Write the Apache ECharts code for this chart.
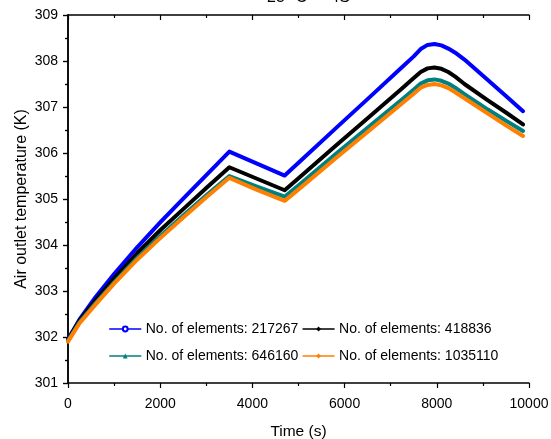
<!DOCTYPE html>
<html>
<head>
<meta charset="utf-8">
<script src="https://cdn.jsdelivr.net/npm/echarts@6/dist/echarts.min.js"></script>
<style>html,body{margin:0;padding:0;background:#fff}#c{width:551px;height:439px}</style>
</head>
<body>
<div id="c"></div>
<script>
var time = [0, 250, 600, 1000, 1500, 2000, 2500, 3000, 3500, 4100, 4700, 5100, 5800, 6550, 7250, 7500, 7650, 7800, 7950, 8100, 8250, 8400, 8600, 9100, 9500, 9870];
var names = ['No. of elements: 217267', 'No. of elements: 418836', 'No. of elements: 646160', 'No. of elements: 1035110'];
var blue   = [301.95, 302.38, 302.87, 303.37, 303.95, 304.49, 305.01, 305.52, 306.03, 305.77, 305.51, 305.88, 306.53, 307.22, 307.87, 308.10, 308.26, 308.35, 308.37, 308.34, 308.27, 308.18, 308.03, 307.59, 307.24, 306.91];
var black  = [301.94, 302.36, 302.80, 303.27, 303.82, 304.32, 304.78, 305.24, 305.69, 305.44, 305.19, 305.54, 306.15, 306.80, 307.41, 307.63, 307.76, 307.84, 307.86, 307.83, 307.76, 307.66, 307.50, 307.15, 306.88, 306.62];
var teal   = [301.92, 302.32, 302.74, 303.19, 303.72, 304.19, 304.64, 305.08, 305.50, 305.27, 305.05, 305.38, 305.97, 306.59, 307.17, 307.38, 307.51, 307.58, 307.60, 307.57, 307.51, 307.42, 307.28, 306.95, 306.70, 306.48];
var orange = [301.90, 302.30, 302.71, 303.16, 303.68, 304.15, 304.60, 305.04, 305.46, 305.20, 304.96, 305.29, 305.88, 306.50, 307.08, 307.29, 307.42, 307.48, 307.50, 307.47, 307.41, 307.32, 307.19, 306.86, 306.60, 306.37];
var titleText = '25 \u00B0C  -  4S';

function pairs(v){ return time.map(function(t,i){ return [t, v[i]]; }); }
var FONT = '"Liberation Sans", Arial, sans-serif';
var colors = ['#0000ff', '#000000', '#008080', '#ff8000'];
var symbols = ['emptyCircle', 'diamond', 'triangle', 'diamond'];
var vals = [blue, black, teal, orange];

var chart = echarts.init(document.getElementById('c'), null, {renderer: 'canvas'});
var axisLine = {show: true, lineStyle: {color: '#000', width: 1.5}};
var baseX = {
  type: 'value', min: 0, max: 10000, interval: 2000,
  axisLine: axisLine, splitLine: {show: false}
};
var baseY = {
  type: 'value', min: 301, max: 309, interval: 1,
  axisLine: axisLine, splitLine: {show: false}
};
var legendText = {fontFamily: FONT, fontSize: 14, color: '#000'};
var option = {
  animation: false,
  backgroundColor: '#fff',
  title: {text: titleText, left: 262, top: -15, textStyle: {fontFamily: FONT, fontSize: 16, fontWeight: 'normal', color: '#000'}},
  grid: {left: 68, right: 22, top: 15, bottom: 56, containLabel: false, outerBoundsMode: 'none'},
  legend: [
    {data: [names[0], names[1]], left: 104, top: 317, itemWidth: 31, itemHeight: 6, itemGap: 4,
     lineStyle: {width: 1.5}, textStyle: legendText},
    {data: [names[2], names[3]], left: 104, top: 344, itemWidth: 31, itemHeight: 6, itemGap: 4,
     lineStyle: {width: 1.5}, textStyle: legendText}
  ],
  xAxis: [
    Object.assign({}, baseX, {
      position: 'bottom', name: 'Time (s)', nameLocation: 'middle', nameGap: 41, nameMoveOverlap: false,
      nameTextStyle: {fontFamily: FONT, fontSize: 15.5, color: '#000'},
      axisTick: {show: true, length: 5, inside: false, lineStyle: {color: '#000', width: 1.2}},
      minorTick: {show: true, splitNumber: 2, length: 3, lineStyle: {color: '#000', width: 1.2}},
      axisLabel: {fontFamily: FONT, fontSize: 14, color: '#000', margin: 14, formatter: function(v){ return String(v); }}
    }),
    Object.assign({}, baseX, {
      position: 'top',
      axisTick: {show: true, length: 5, inside: true, lineStyle: {color: '#000', width: 1.2}},
      minorTick: {show: true, splitNumber: 2, length: 3, lineStyle: {color: '#000', width: 1.2}},
      axisLabel: {show: false}
    })
  ],
  yAxis: [
    Object.assign({}, baseY, {
      position: 'left', name: 'Air outlet temperature (K)', nameLocation: 'middle', nameGap: 38, nameMoveOverlap: false,
      nameTextStyle: {fontFamily: FONT, fontSize: 16, color: '#000'},
      axisTick: {show: true, length: 5, inside: false, lineStyle: {color: '#000', width: 1.2}},
      minorTick: {show: true, splitNumber: 2, length: 3, lineStyle: {color: '#000', width: 1.2}},
      axisLabel: {fontFamily: FONT, fontSize: 14, color: '#000', margin: 10, formatter: function(v){ return String(v); }}
    }),
    Object.assign({}, baseY, {
      position: 'right',
      axisTick: {show: true, length: 5, inside: true, lineStyle: {color: '#000', width: 1.2}},
      minorTick: {show: true, splitNumber: 2, length: 3, lineStyle: {color: '#000', width: 1.2}},
      axisLabel: {show: false}
    })
  ],
  series: vals.map(function(v, i){
    return {
      name: names[i], type: 'line', data: pairs(v), xAxisIndex: 0, yAxisIndex: 0,
      showSymbol: false, symbol: symbols[i], symbolSize: 5, smooth: false,
      color: colors[i],
      lineStyle: {color: colors[i], width: 4, join: 'round', cap: 'round'},
      itemStyle: {color: colors[i]}
    };
  })
};
chart.setOption(option);
</script>
</body>
</html>
